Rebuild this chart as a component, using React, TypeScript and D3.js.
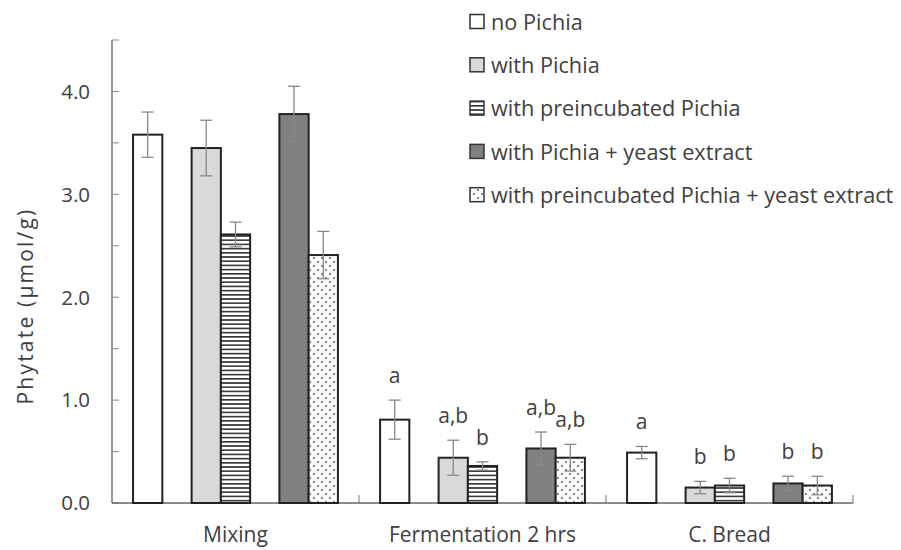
import React from "react";
import * as d3 from "d3";

const categories = ["Mixing", "Fermentation 2 hrs", "C. Bread"];
const seriesNames = [
  "no Pichia",
  "with Pichia",
  "with preincubated Pichia",
  "with Pichia + yeast extract",
  "with preincubated Pichia + yeast extract",
];
// values[series][category]
const noPichia = [3.58, 0.81, 0.49];
const withPichia = [3.45, 0.44, 0.15];
const preincPichia = [2.61, 0.36, 0.17];
const pichiaYeast = [3.78, 0.53, 0.19];
const preincPichiaYeast = [2.41, 0.44, 0.17];
const errNoPichia = [0.22, 0.19, 0.06];
const errWithPichia = [0.27, 0.17, 0.06];
const errPreincPichia = [0.12, 0.04, 0.07];
const errPichiaYeast = [0.27, 0.16, 0.07];
const errPreincPichiaYeast = [0.23, 0.13, 0.09];
const sigNoPichia = ["", "a", "a"];
const sigWithPichia = ["", "a,b", "b"];
const sigPreincPichia = ["", "b", "b"];
const sigPichiaYeast = ["", "a,b", "b"];
const sigPreincPichiaYeast = ["", "a,b", "b"];
const yTicks = [0, 1, 2, 3, 4];
const yMinorTicks = [0, 0.5, 1, 1.5, 2, 2.5, 3, 3.5, 4, 4.5];

const values = [noPichia, withPichia, preincPichia, pichiaYeast, preincPichiaYeast];
const errors = [errNoPichia, errWithPichia, errPreincPichia, errPichiaYeast, errPreincPichiaYeast];
const sigs = [sigNoPichia, sigWithPichia, sigPreincPichia, sigPichiaYeast, sigPreincPichiaYeast];
const slotOf = [0, 2, 3, 5, 6];
const fills = ["#ffffff", "#d9d9d9", "url(#hstripe)", "#808080", "url(#dots)"];

const FONT = "'Open Sans', sans-serif";
const TEXT = "#404040";

export default function App() {
  const W = 901, H = 550;
  const left = 112, right = 853, top = 40, bottom = 503;
  const x0 = d3.scaleBand<string>().domain(categories).range([left, right]).padding(0);
  const slots = d3.range(7).map(String);
  const x1 = d3
    .scaleBand<string>()
    .domain(slots)
    .range([0, x0.bandwidth()])
    .paddingInner(0)
    .paddingOuter(0.72);
  const y = d3.scaleLinear().domain([0, 4.5]).range([bottom, top]);
  const bw = x1.bandwidth();

  return (
    <svg width={W} height={H} style={{ position: "absolute", left: 0, top: 0, background: "#fff" }}>
      <defs>
        <pattern id="hstripe" width="6" height="4.2" patternUnits="userSpaceOnUse">
          <rect width="6" height="4.2" fill="#fff" />
          <rect y="0" width="6" height="1.6" fill="#333" />
        </pattern>
        <pattern id="dots" width="8" height="8" patternUnits="userSpaceOnUse">
          <rect width="8" height="8" fill="#fff" />
          <circle cx="2" cy="2" r="1.2" fill="#888" />
          <circle cx="6" cy="6" r="1.2" fill="#888" />
        </pattern>
      </defs>

      {/* Y axis */}
      <line x1={left} x2={left} y1={top} y2={bottom} stroke="#777" strokeWidth={1.5} />
      {yMinorTicks.map((t) => (
        <line key={"m" + t} x1={left} x2={left + 7} y1={y(t)} y2={y(t)} stroke="#888" strokeWidth={1} />
      ))}
      {yTicks.map((t) => (
        <text
          key={"t" + t}
          x={90}
          y={y(t)}
          dy="0.36em"
          textAnchor="end"
          fontFamily={FONT}
          fontSize={20.5}
          fill={TEXT}
        >
          {d3.format(".1f")(t)}
        </text>
      ))}
      <text
        transform={`translate(33,306) rotate(-90)`}
        textAnchor="middle"
        fontFamily={FONT}
        fontSize={21}
        letterSpacing={2.2}
        fill={TEXT}
      >
        Phytate (µmol/g)
      </text>

      {/* X axis */}
      <line x1={left} x2={right} y1={bottom} y2={bottom} stroke="#666" strokeWidth={1.5} />
      {categories.map((c, i) =>
        i > 0 ? (
          <line key={"xt" + c} x1={x0(c)!} x2={x0(c)!} y1={bottom} y2={bottom - 8} stroke="#777" strokeWidth={1} />
        ) : null
      )}
      <line x1={right} x2={right} y1={bottom} y2={bottom - 8} stroke="#777" strokeWidth={1} />
      {categories.map((c) => (
        <text
          key={"xl" + c}
          x={x0(c)! + x0.bandwidth() / 2}
          y={542}
          textAnchor="middle"
          fontFamily={FONT}
          fontSize={21}
          fill={TEXT}
        >
          {c}
        </text>
      ))}

      {/* Bars */}
      {categories.map((c, ci) =>
        values.map((vals, si) => {
          const bx = x0(c)! + x1(String(slotOf[si]))!;
          const v = vals[ci];
          const e = errors[si][ci];
          const cx = bx + bw / 2;
          return (
            <g key={c + si}>
              <rect
                x={bx}
                y={y(v)}
                width={bw}
                height={y(0) - y(v)}
                fill={fills[si]}
                stroke="#222"
                strokeWidth={2}
              />
              <line x1={cx} x2={cx} y1={y(v + e)} y2={y(v - e)} stroke="#888" strokeWidth={1.3} />
              <line x1={cx - 6} x2={cx + 6} y1={y(v + e)} y2={y(v + e)} stroke="#888" strokeWidth={1.3} />
              <line x1={cx - 6} x2={cx + 6} y1={y(v - e)} y2={y(v - e)} stroke="#888" strokeWidth={1.3} />
              {sigs[si][ci] ? (
                <text
                  x={cx}
                  y={y(v + e) - 17}
                  textAnchor="middle"
                  fontFamily={FONT}
                  fontSize={21}
                  fill={TEXT}
                >
                  {sigs[si][ci]}
                </text>
              ) : null}
            </g>
          );
        })
      )}

      {/* Legend */}
      {seriesNames.map((s, i) => {
        const ly = 22 + i * 43.3;
        return (
          <g key={s}>
            <rect x={470} y={ly - 7.5} width={14} height={14} fill={fills[i]} stroke="#333" strokeWidth={1.5} />
            <text x={491} y={ly} dy="0.36em" fontFamily={FONT} fontSize={21.7} fill={TEXT}>
              {s}
            </text>
          </g>
        );
      })}
    </svg>
  );
}
